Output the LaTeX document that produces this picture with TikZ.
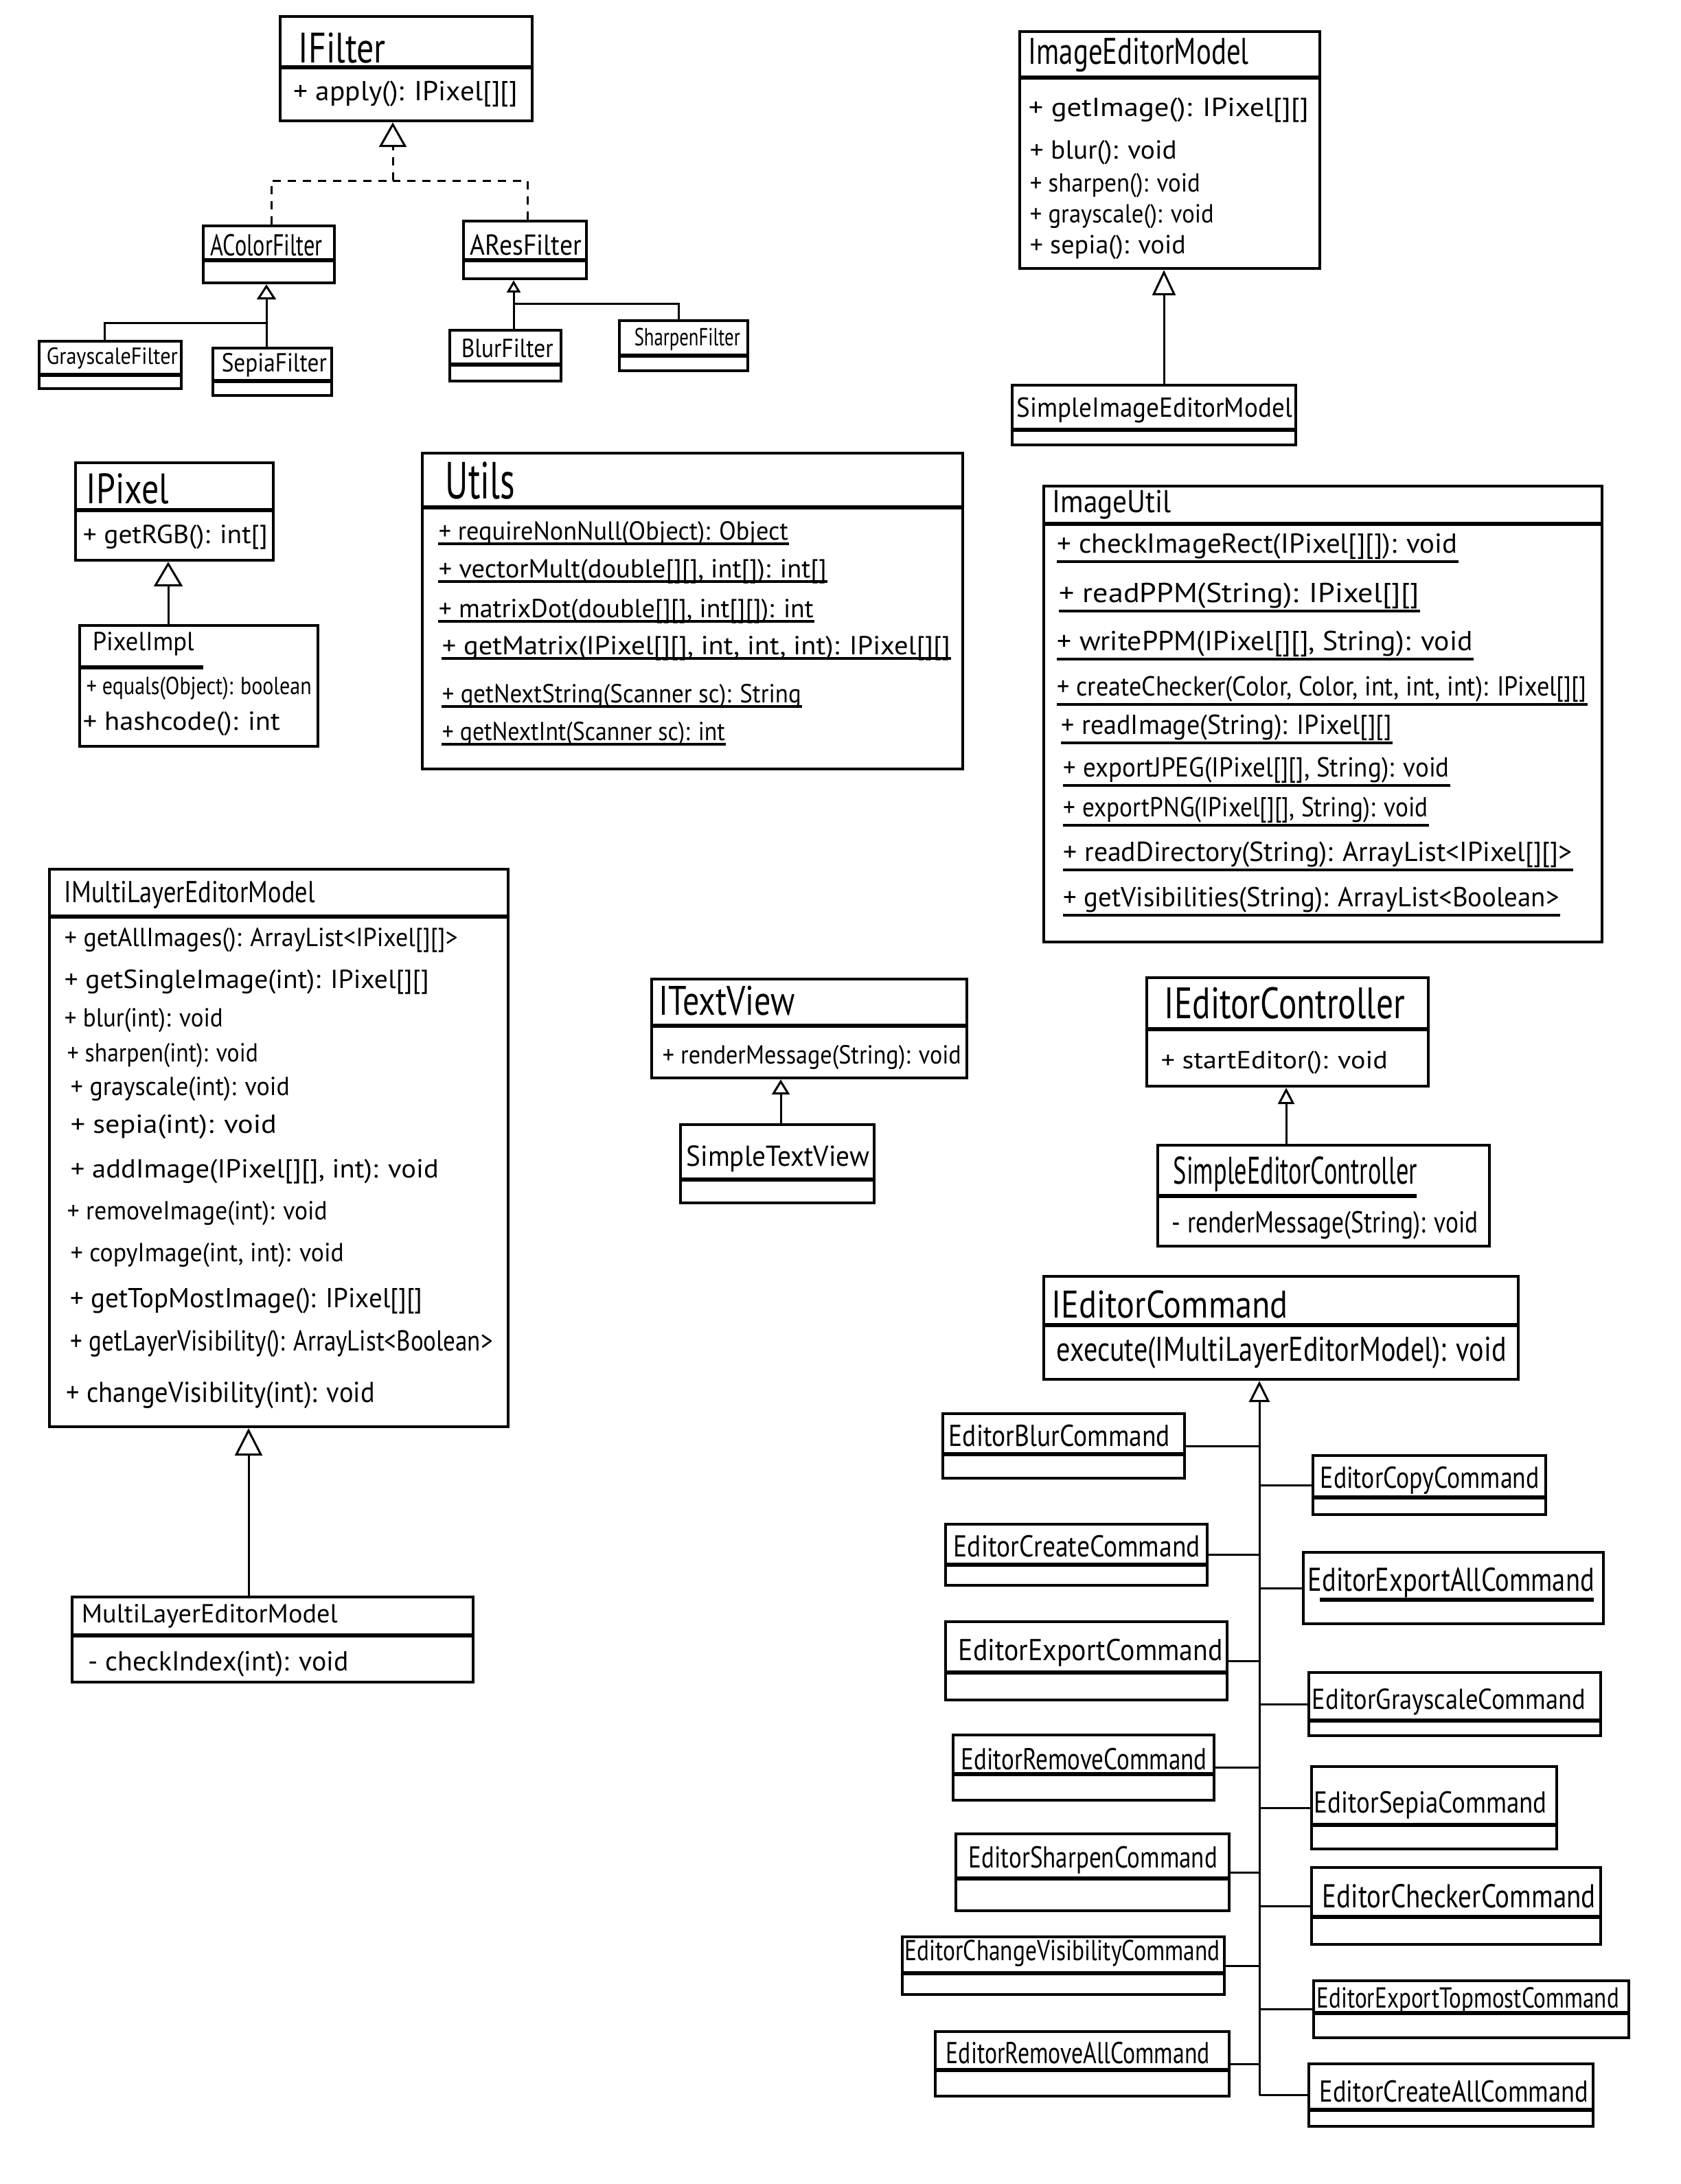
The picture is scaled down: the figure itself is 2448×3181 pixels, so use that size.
\documentclass[tikz,border=0pt]{standalone}
\usepackage{graphicx}
\usepackage{fontspec}
\setmainfont{PT Sans}
\usetikzlibrary{arrows.meta,fit}

% a label squeezed horizontally to a given width (in drawing units)
\newsavebox\lblbox
\newcommand\fitw[2]{\sbox\lblbox{#2}\pgfmathsetmacro\lblsx{#1*0.25/\the\wd\lblbox}\scalebox{\lblsx}[1]{\usebox\lblbox}}

% class box: name, x1, y1, x2, y2, y of the separator
\newcommand\umlclass[6]{%
  \node[classbox, fit={(#2,#3) (#4,#5)}] (#1) {};
  \draw[sepline] (#1.west |- 0,#6) -- (#1.east |- 0,#6);}
% plain box without a full-width separator
\newcommand\umlplain[5]{\node[classbox, fit={(#2,#3) (#4,#5)}] (#1) {};}
% text line: name, x, y, font size, width, text
\newcommand\umltext[6]{\node[lbl, font=\fontsize{#4}{#4}\selectfont] (#1) at (#2,#3) {\fitw{#5}{#6}};}
% underlined (static) member: name, x, y, font size, width, underline drop, text
\newcommand\umlstatic[7]{\umltext{#1}{#2}{#3}{#4}{#5}{#7}%
  \draw[ulline] ([yshift=-#6]#1.base west) -- ([yshift=-#6]#1.base east);}

\begin{document}
\begin{tikzpicture}[x=0.25pt,y=-0.25pt,
  classbox/.style={draw, line width=1.1pt, inner sep=0pt},
  sepline/.style={line width=1.5pt},
  ulline/.style={line width=1pt},
  conn/.style={line width=0.75pt},
  inh/.style 2 args={conn, -{Triangle[open, length=#1, width=#2, line width=0.75pt]}},
  realize/.style={dash pattern=on 3pt off 2.5pt},
  lbl/.style={anchor=west, inner sep=0pt}]

\fill[white] (0,0) rectangle (2448,3181);
\useasboundingbox (0,0) rectangle (2448,3181);

% ---------------- filters ----------------
\umlclass{ifilter}{408}{24}{775}{176}{98}
\umltext{ifilterT}{434}{70}{15.5}{127}{IFilter}
\umltext{ifilterM}{427}{137}{10}{326}{+ apply(): IPixel[][]}

\umlclass{acolorf}{296}{329}{487}{412}{379}
\umltext{acolorfT}{306}{357}{11}{163}{AColorFilter}
\umlclass{aresf}{675}{322}{854}{406}{379}
\umltext{aresfT}{684}{357}{10.5}{162}{AResFilter}
\umlclass{grayf}{57}{497}{264}{566}{546}
\umltext{grayfT}{67}{522}{8.5}{191}{GrayscaleFilter}
\umlclass{sepiaf}{310}{507}{483}{576}{555}
\umltext{sepiafT}{322}{532}{9.5}{153}{SepiaFilter}
\umlclass{blurf}{655}{481}{817}{555}{531}
\umltext{blurfT}{671}{507}{9.5}{134}{BlurFilter}
\umlclass{sharpf}{902}{467}{1089}{540}{518}
\umltext{sharpfT}{923}{494}{9}{154}{SharpenFilter}

\coordinate (jfilter) at (572,263);
\draw[conn, realize] (395,0 |- acolorf.north) |- (jfilter);
\draw[conn, realize] (768,0 |- aresf.north) |- (jfilter);
\draw[inh={9pt}{10pt}, realize] (jfilter) -- (572,0 |- ifilter.south);

\coordinate (jcolor) at (388,470);
\draw[inh={5.5pt}{7pt}] (388,0 |- sepiaf.north) -- (388,0 |- acolorf.south);
\draw[conn] (152,0 |- grayf.north) |- (jcolor);

\coordinate (jres) at (748,442);
\draw[inh={4.5pt}{5pt}] (748,0 |- blurf.north) -- (748,0 |- aresf.south);
\draw[conn] (988,0 |- sharpf.north) |- (jres);

% ---------------- image editor model ----------------
\umlclass{iem}{1485}{46}{1922}{391}{113}
\umltext{iemT}{1497}{80}{13.5}{321}{ImageEditorModel}
\umltext{iemA}{1497}{160}{9.5}{408}{+ getImage(): IPixel[][]}
\umltext{iemB}{1499}{222}{9.5}{214}{+ blur(): void}
\umltext{iemC}{1499}{270}{9.5}{248}{+ sharpen(): void}
\umltext{iemD}{1499}{315}{9.5}{268}{+ grayscale(): void}
\umltext{iemE}{1499}{360}{9.5}{227}{+ sepia(): void}
\umlclass{siem}{1474}{561}{1887}{648}{626}
\umltext{siemT}{1480}{597}{10}{401}{SimpleImageEditorModel}
\draw[inh={9.25pt}{8.5pt}] (1695,0 |- siem.north) -- (1695,0 |- iem.south);

% ---------------- pixels ----------------
\umlclass{ipixel}{110}{674}{398}{816}{743}
\umltext{ipixelT}{125}{712}{15.5}{120}{IPixel}
\umltext{ipixelM}{120}{782}{9.5}{269}{+ getRGB(): int[]}
\umlplain{pixelimpl}{116}{911}{463}{1087}
\draw[sepline] (pixelimpl.west |- 0,972) -- (296,972);
\umltext{pixelimplT}{134}{938}{9.5}{148}{PixelImpl}
\umltext{pixelimplA}{125}{1003}{9}{328}{+ equals(Object): boolean}
\umltext{pixelimplB}{120}{1054}{9.5}{287}{+ hashcode(): int}
\draw[inh={9pt}{10.5pt}] (245,0 |- pixelimpl.north) -- (245,0 |- ipixel.south);

% ---------------- utils ----------------
\umlclass{utils}{615}{660}{1402}{1120}{739}
\umltext{utilsT}{648}{700}{19}{101}{Utils}
\umlstatic{utilsA}{638}{777}{9.5}{509}{1.5pt}{+ requireNonNull(Object): Object}
\umlstatic{utilsB}{638}{832}{9.5}{565}{1.5pt}{+ vectorMult(double[][], int[]): int[]}
\umlstatic{utilsC}{638}{890}{9.5}{546}{1.5pt}{+ matrixDot(double[][], int[][]): int}
\umlstatic{utilsD}{643}{944}{9.5}{740}{1.5pt}{+ getMatrix(IPixel[][], int, int, int): IPixel[][]}
\umlstatic{utilsE}{643}{1014}{9.5}{523}{1.5pt}{+ getNextString(Scanner sc): String}
\umlstatic{utilsF}{643}{1069}{9.5}{412}{1.5pt}{+ getNextInt(Scanner sc): int}

% ---------------- image util ----------------
\umlclass{imgutil}{1520}{708}{2333}{1372}{763}
\umltext{imgutilT}{1532}{735}{11.5}{173}{ImageUtil}
\umlstatic{imgutilA}{1539}{796}{10}{583}{3pt}{+ checkImageRect(IPixel[][]): void}
\umlstatic{imgutilB}{1542}{868}{10}{524}{3pt}{+ readPPM(String): IPixel[][]}
\umlstatic{imgutilC}{1539}{938}{10}{605}{3pt}{+ writePPM(IPixel[][], String): void}
\umlstatic{imgutilD}{1539}{1004}{10}{771}{3pt}{+ createChecker(Color, Color, int, int, int): IPixel[][]}
\umlstatic{imgutilE}{1545}{1060}{10}{481}{3pt}{+ readImage(String): IPixel[][]}
\umlstatic{imgutilF}{1548}{1122}{10}{562}{3pt}{+ exportJPEG(IPixel[][], String): void}
\umlstatic{imgutilG}{1548}{1180}{10}{531}{3pt}{+ exportPNG(IPixel[][], String): void}
\umlstatic{imgutilH}{1548}{1245}{10}{741}{3pt}{+ readDirectory(String): ArrayList<IPixel[][]>}
\umlstatic{imgutilI}{1548}{1311}{10}{722}{3pt}{+ getVisibilities(String): ArrayList<Boolean>}

% ---------------- multi-layer model ----------------
\umlclass{imulti}{72}{1266}{740}{2078}{1335}
\umltext{imultiT}{93}{1303}{11}{365}{IMultiLayerEditorModel}
\umltext{imultiA}{93}{1369}{9.5}{573}{+ getAllImages(): ArrayList<IPixel[][]>}
\umltext{imultiB}{93}{1430}{9.5}{531}{+ getSingleImage(int): IPixel[][]}
\umltext{imultiC}{93}{1486}{9.5}{231}{+ blur(int): void}
\umltext{imultiD}{97}{1537}{9.5}{278}{+ sharpen(int): void}
\umltext{imultiE}{102}{1586}{9.5}{319}{+ grayscale(int): void}
\umltext{imultiF}{102}{1641}{9.5}{300}{+ sepia(int): void}
\umltext{imultiG}{102}{1706}{9.5}{536}{+ addImage(IPixel[][], int): void}
\umltext{imultiH}{97}{1767}{9.5}{379}{+ removeImage(int): void}
\umltext{imultiI}{102}{1828}{9.5}{398}{+ copyImage(int, int): void}
\umltext{imultiJ}{102}{1895}{10}{513}{+ getTopMostImage(): IPixel[][]}
\umltext{imultiK}{102}{1957}{10.5}{615}{+ getLayerVisibility(): ArrayList<Boolean>}
\umltext{imultiL}{96}{2032}{10.5}{449}{+ changeVisibility(int): void}
\umlclass{mlem}{105}{2326}{689}{2450}{2382}
\umltext{mlemT}{118}{2354}{9.5}{373}{MultiLayerEditorModel}
\umltext{mlemM}{128}{2424}{10}{379}{- checkIndex(int): void}
\draw[inh={10pt}{10pt}] (362,0 |- mlem.north) -- (362,0 |- imulti.south);

% ---------------- view ----------------
\umlclass{itv}{949}{1426}{1408}{1570}{1494}
\umltext{itvT}{959}{1458}{15}{198}{ITextView}
\umltext{itvM}{964}{1540}{9.5}{435}{+ renderMessage(String): void}
\umlclass{stv}{991}{1638}{1273}{1752}{1718}
\umltext{stvT}{999}{1688}{10.5}{266}{SimpleTextView}
\draw[inh={5.5pt}{6.5pt}] (1137,0 |- stv.north) -- (1137,0 |- itv.south);

% ---------------- controller ----------------
\umlclass{iec}{1670}{1424}{2080}{1582}{1499}
\umltext{iecT}{1695}{1461}{16}{350}{IEditorController}
\umltext{iecM}{1690}{1548}{9}{330}{+ startEditor(): void}
\umlplain{sec}{1686}{1668}{2169}{1815}
\draw[sepline] (sec.west |- 0,1742) -- (2063,1742);
\umltext{secT}{1708}{1710}{14}{355}{SimpleEditorController}
\umltext{secM}{1706}{1785}{11}{446}{- renderMessage(String): void}
\draw[inh={6pt}{6pt}] (1873,0 |- sec.north) -- (1873,0 |- iec.south);

% ---------------- commands ----------------
\umlclass{iecmd}{1520}{1859}{2211}{2009}{1930}
\umltext{iecmdT}{1531}{1900}{14}{344}{IEditorCommand}
\umltext{iecmdM}{1538}{1970}{12.5}{655}{execute(IMultiLayerEditorModel): void}

\umlclass{cblur}{1373}{2059}{1725}{2153}{2118}
\umltext{cblurT}{1381}{2091}{11}{322}{EditorBlurCommand}
\umlclass{ccreate}{1377}{2220}{1758}{2309}{2279}
\umltext{ccreateT}{1388}{2252}{11}{359}{EditorCreateCommand}
\umlclass{cexport}{1377}{2362}{1787}{2476}{2436}
\umltext{cexportT}{1395}{2407}{11}{385}{EditorExportCommand}
\umlclass{cremove}{1388}{2527}{1768}{2622}{2584}
\umltext{cremoveT}{1399}{2562}{11}{358}{EditorRemoveCommand}
\umlclass{csharpen}{1392}{2671}{1790}{2783}{2736}
\umltext{csharpenT}{1410}{2709}{11}{362}{EditorSharpenCommand}
\umlclass{cvis}{1314}{2821}{1783}{2905}{2874}
\umltext{cvisT}{1317}{2845}{10.5}{459}{EditorChangeVisibilityCommand}
\umlclass{cremall}{1362}{2959}{1790}{3053}{3015}
\umltext{cremallT}{1377}{2990}{11}{384}{EditorRemoveAllCommand}

\umlclass{ccopy}{1912}{2120}{2251}{2206}{2181}
\umltext{ccopyT}{1922}{2156}{11}{319}{EditorCopyCommand}
\umlplain{cexpall}{1898}{2261}{2335}{2365}
\draw[sepline] (1922,2330) -- (2321,2330);
\umltext{cexpallT}{1904}{2305}{12}{417}{EditorExportAllCommand}
\umlclass{cgray}{1906}{2436}{2331}{2528}{2506}
\umltext{cgrayT}{1910}{2479}{10.5}{398}{EditorGrayscaleCommand}
\umlclass{csepia}{1910}{2573}{2267}{2693}{2658}
\umltext{csepiaT}{1913}{2629}{11}{339}{EditorSepiaCommand}
\umlclass{cchecker}{1910}{2720}{2331}{2832}{2792}
\umltext{ccheckerT}{1925}{2762}{12}{398}{EditorCheckerCommand}
\umlclass{ctopmost}{1913}{2885}{2372}{2968}{2932}
\umltext{ctopmostT}{1917}{2914}{10.5}{440}{EditorExportTopmostCommand}
\umlclass{ccreall}{1906}{3006}{2320}{3097}{3073}
\umltext{ccreallT}{1921}{3046}{11}{391}{EditorCreateAllCommand}

% shared trunk up to the command interface
\coordinate (trunkend) at (1834,0 |- ccreall.west);
\draw[inh={7.75pt}{7.5pt}] (trunkend) -- (1834,0 |- iecmd.south);
\foreach \c in {cblur,ccreate,cexport,cremove,csharpen,cvis,cremall}
  \draw[conn] (\c.east) -- (1834,0 |- \c.east);
\foreach \c in {ccopy,cexpall,cgray,csepia,cchecker,ctopmost,ccreall}
  \draw[conn] (1834,0 |- \c.west) -- (\c.west);

\end{tikzpicture}
\end{document}
